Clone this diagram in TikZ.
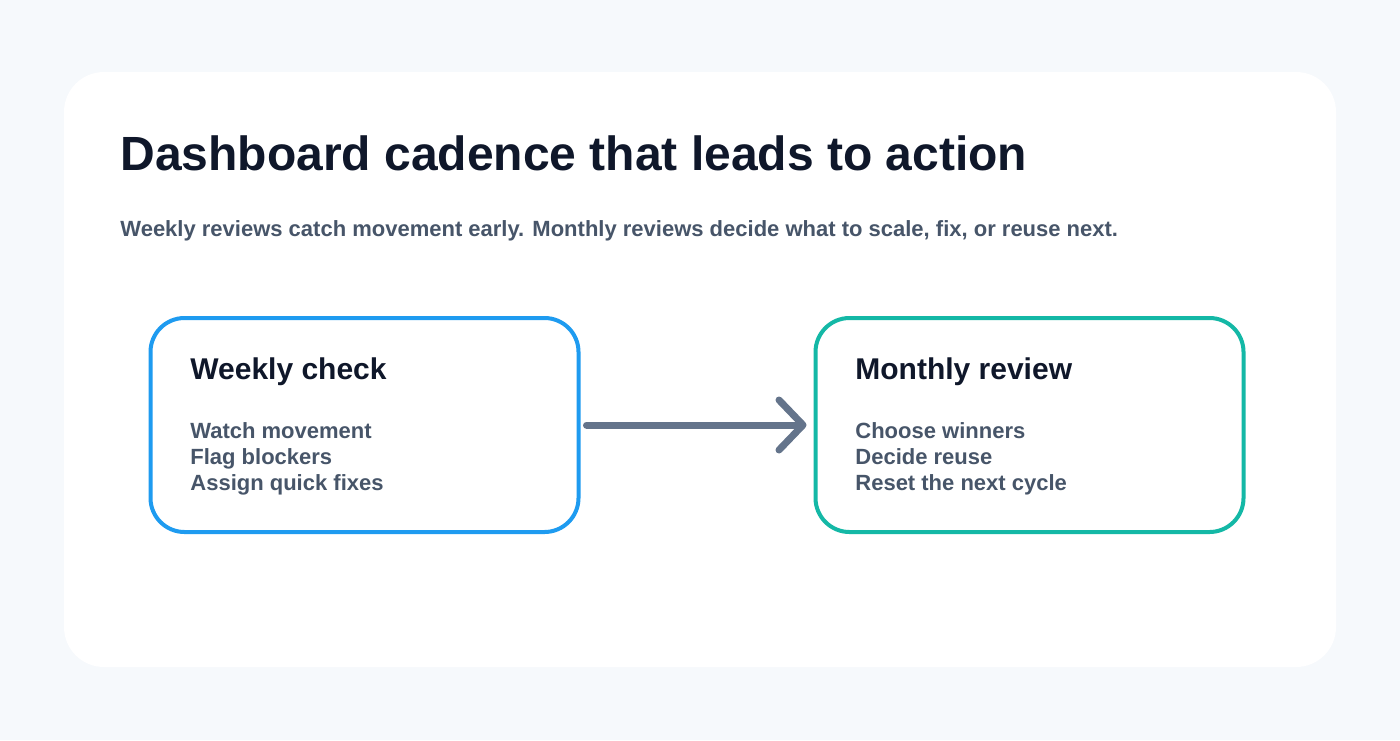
\documentclass[tikz,border=0pt]{standalone}
\usepackage{fontspec}
\setmainfont{Liberation Sans}
\usetikzlibrary{arrows.meta}
\definecolor{pagebg}{HTML}{F6F9FC}
\definecolor{titleink}{HTML}{0F172A}
\definecolor{textink}{HTML}{475569}
\definecolor{weeklyblue}{HTML}{1E9BF0}
\definecolor{monthlyteal}{HTML}{14B8A6}
\definecolor{arrowgray}{HTML}{64748B}
\tikzset{
  stagebox/.style={draw, line width=2pt, rounded corners=17pt, fill=white,
    minimum width=214pt, minimum height=107pt, inner sep=0pt},
  stagetitle/.style={anchor=base west, inner sep=0pt, text=titleink,
    font=\fontsize{15}{18}\selectfont\bfseries},
  stageitem/.style={anchor=base west, inner sep=0pt, text=textink,
    font=\fontsize{11}{13}\selectfont\bfseries},
}
\begin{document}
\begin{tikzpicture}[x=0.5pt,y=-0.5pt]
\useasboundingbox (0,0) rectangle (1400,740);
\fill[pagebg] (0,0) rectangle (1400,740);
\fill[white,rounded corners=20pt] (64,72) rectangle (1336,667);
% heading
\node[anchor=base west,inner sep=0pt,text=titleink,font=\fontsize{24}{29}\selectfont\bfseries]
  (heading) at (120,170) {Dashboard cadence that leads to action};
\node[anchor=base west,inner sep=0pt,text=textink,font=\fontsize{11}{13}\selectfont\bfseries]
  (subheading) at (120,236) {Weekly reviews catch movement early. Monthly reviews decide what to scale, fix, or reuse next.};
% the two stages
\node[stagebox,draw=weeklyblue] (weekly) at (364.5,425) {};
\node[stagebox,draw=monthlyteal] (monthly) at (1029.5,425) {};
\node[stagetitle] (weeklytitle) at (190,379) {Weekly check};
\node[stageitem] (weeklyone) at (190,438) {Watch movement};
\node[stageitem] (weeklytwo) at (190,464) {Flag blockers};
\node[stageitem] (weeklythree) at (190,490) {Assign quick fixes};
\node[stagetitle] (monthlytitle) at (855,379) {Monthly review};
\node[stageitem] (monthlyone) at (855,438) {Choose winners};
\node[stageitem] (monthlytwo) at (855,464) {Decide reuse};
\node[stageitem] (monthlythree) at (855,490) {Reset the next cycle};
% connector
\draw[arrowgray,line width=3.5pt,line cap=round,shorten <=3pt,shorten >=3.5pt,
  -{Straight Barb[length=12pt,width=25pt,line cap=round,line join=round]}]
  (weekly.east) -- (monthly.west);
\end{tikzpicture}
\end{document}
